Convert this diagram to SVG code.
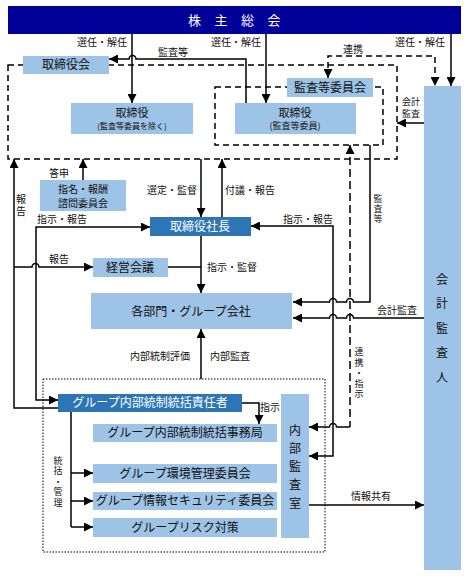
<svg xmlns="http://www.w3.org/2000/svg" width="468" height="576" viewBox="0 0 468 576">
<style>
text{font-family:"Noto Sans CJK JP","Noto Sans",sans-serif;fill:#111;text-anchor:middle}
.lb{font-size:10px}
.v{writing-mode:vertical-rl;text-anchor:start}
.bx{font-size:12px}
.w{fill:#fff}
.lt{fill:#9dc3e6}
.dk{fill:#2e75b6}
.ln{fill:none;stroke:#000;stroke-width:1.5}
.ds{fill:none;stroke:#000;stroke-width:1.5;stroke-dasharray:6 4}
.dd{fill:none;stroke:#000;stroke-width:1.5;stroke-dasharray:8 4}
.dt{fill:none;stroke:#000;stroke-width:1;stroke-dasharray:1.5 1.5}
</style>
<defs>
<marker id="a" viewBox="0 0 10 10" refX="10" refY="5" markerWidth="6" markerHeight="6" markerUnits="strokeWidth" orient="auto-start-reverse">
<path d="M0,0 L10,5 L0,10 z" fill="#000"/>
</marker>
</defs>
<rect width="468" height="576" fill="#fff"/>

<g id="frames">
<rect class="ds" x="8" y="65" width="389" height="94"/>
<rect class="ds" x="215" y="87" width="168" height="58"/>
<rect class="dt" x="43" y="379" width="282" height="173"/>
</g>

<g id="shareholders">
<rect x="8" y="6" width="453" height="28" fill="#000099"/>
<text class="w" x="241" y="25" style="font-size:13px;letter-spacing:13.5px">株主総会</text>
</g>

<g id="board">
<rect class="lt" x="23" y="56" width="86" height="18"/>
<text class="bx" x="66" y="69">取締役会</text>
</g>
<g id="directors">
<rect class="lt" x="71" y="103" width="122" height="31"/>
<text x="132" y="117" style="font-size:11px">取締役<tspan x="132" dy="12" style="font-size:8px">(監査等委員を除く)</tspan></text>
</g>
<g id="audit-committee">
<rect class="lt" x="287" y="78" width="86" height="19"/>
<text class="bx" x="330" y="92">監査等委員会</text>
</g>
<g id="audit-directors">
<rect class="lt" x="235" y="103" width="121" height="31"/>
<text x="295" y="117" style="font-size:11px">取締役<tspan x="295" dy="12" style="font-size:9px">(監査等委員)</tspan></text>
</g>
<g id="accounting-auditor">
<rect class="lt" x="424" y="86" width="37" height="484"/>
<text class="v" x="442" y="273" style="font-size:12px;letter-spacing:12.5px">会計監査人</text>
</g>
<g id="nomination">
<rect class="lt" x="40" y="180" width="86" height="31"/>
<text x="83" y="193" style="font-size:10px">指名・報酬<tspan x="83" dy="13.5">諮問委員会</tspan></text>
</g>
<g id="president">
<rect class="dk" x="150" y="217" width="101" height="19"/>
<text class="bx w" x="200" y="231">取締役社長</text>
</g>
<g id="management">
<rect class="lt" x="93" y="258" width="75" height="19"/>
<text class="bx" x="130" y="272">経営会議</text>
</g>
<g id="departments">
<rect class="lt" x="91" y="293" width="201" height="36"/>
<text class="bx" x="191" y="316">各部門・グループ会社</text>
</g>
<g id="ic-officer">
<rect class="dk" x="58" y="394" width="184" height="18"/>
<text class="bx w" x="150" y="407">グループ内部統制統括責任者</text>
</g>
<g id="ic-office">
<rect class="lt" x="93" y="424" width="184" height="18"/>
<text class="bx" x="185" y="437">グループ内部統制統括事務局</text>
</g>
<g id="env">
<rect class="lt" x="93" y="464" width="184" height="19"/>
<text class="bx" x="185" y="478">グループ環境管理委員会</text>
</g>
<g id="infosec">
<rect class="lt" x="93" y="492" width="184" height="18"/>
<text class="bx" x="185" y="505">グループ情報セキュリティ委員会</text>
</g>
<g id="risk">
<rect class="lt" x="93" y="518" width="184" height="19"/>
<text class="bx" x="185" y="532">グループリスク対策</text>
</g>
<g id="internal-audit">
<rect class="lt" x="281" y="394" width="28" height="144"/>
<text class="v" x="295" y="424" style="font-size:12px;letter-spacing:6.25px">内部監査室</text>
</g>

<g id="connectors">
<path class="ln" d="M132,34 V103" marker-end="url(#a)"/>
<path class="ln" d="M246,103 V59 H136 A3.5,3.5 0 0 0 129,59 H109" marker-end="url(#a)"/>
<path class="ln" d="M266,34 V103" marker-end="url(#a)"/>
<path class="ln" d="M451,34 V86" marker-end="url(#a)"/>
<path class="ds" d="M328,78 V56 H435 V86" marker-start="url(#a)" marker-end="url(#a)"/>
<path class="ln" d="M424,123 H397" marker-end="url(#a)"/>
<path class="ln" d="M83,180 V159" marker-end="url(#a)"/>
<path class="ln" d="M201,159 V217" marker-end="url(#a)"/>
<path class="ln" d="M222,217 V159" marker-end="url(#a)"/>
<path class="ln" d="M58,408 H14 V159" marker-end="url(#a)"/>
<path class="ln" d="M14,267 H32 A3.5,3.5 0 0 1 39,267 H93" marker-end="url(#a)"/>
<path class="ln" d="M58,400 H36 V227 H150" marker-start="url(#a)" marker-end="url(#a)"/>
<path class="ln" d="M168,267 H201"/>
<path class="ln" d="M201,236 V293" marker-end="url(#a)"/>
<path class="ln" d="M201,379 V329" marker-end="url(#a)"/>
<path class="ln" d="M309,456 H333 V226 H251" marker-start="url(#a)" marker-end="url(#a)"/>
<path class="ln" d="M370,145 V302 H353.5 A3.5,3.5 0 0 0 346.5,302 H336.5 A3.5,3.5 0 0 0 329.5,302 H293" marker-end="url(#a)"/>
<path class="ln" d="M424,318 H353.5 A3.5,3.5 0 0 0 346.5,318 H336.5 A3.5,3.5 0 0 0 329.5,318 H293" marker-end="url(#a)"/>
<path class="dd" d="M350,145 V427" marker-start="url(#a)"/>
<path class="ln" d="M350,427 H336.5 A3.5,3.5 0 0 0 329.5,427 H309" marker-end="url(#a)"/>
<path class="ln" d="M242,403 H259 V424" marker-end="url(#a)"/>
<path class="ln" d="M71,412 V527"/>
<path class="ln" d="M71,473 H93" marker-end="url(#a)"/>
<path class="ln" d="M71,501 H93" marker-end="url(#a)"/>
<path class="ln" d="M71,527 H93" marker-end="url(#a)"/>
<path class="ln" d="M309,505 H424" marker-end="url(#a)"/>
</g>

<g id="labels">
<text class="lb" x="102" y="46">選任・解任</text>
<text class="lb" x="173" y="56">監査等</text>
<text class="lb" x="236" y="46">選任・解任</text>
<text class="lb" x="420" y="46">選任・解任</text>
<text class="lb" x="353" y="53">連携</text>
<text x="411" y="105" style="font-size:9px">会計<tspan x="411" dy="12">監査</tspan></text>
<text class="lb" x="59" y="177">答申</text>
<text class="lb v" x="21" y="194" style="letter-spacing:2px">報告</text>
<text class="lb" x="172" y="194">選定・監督</text>
<text class="lb" x="250" y="194">付議・報告</text>
<text class="lb" x="62" y="223">指示・報告</text>
<text class="lb" x="308" y="223">指示・報告</text>
<text class="v" x="378" y="194.5" style="font-size:9px;letter-spacing:1px">監査等</text>
<text class="lb" x="59" y="263">報告</text>
<text class="lb" x="232" y="271">指示・監督</text>
<text class="lb" x="397" y="314">会計監査</text>
<text class="lb" x="160" y="360">内部統制評価</text>
<text class="lb" x="230" y="360">内部監査</text>
<text class="v" x="359" y="347.5" style="font-size:9px;letter-spacing:1.5px">連携・指示</text>
<text class="lb" x="270" y="411">指示</text>
<text class="v" x="58" y="456" style="font-size:9px;letter-spacing:1.5px">統括・管理</text>
<text class="lb" x="371" y="500">情報共有</text>
</g>
</svg>
